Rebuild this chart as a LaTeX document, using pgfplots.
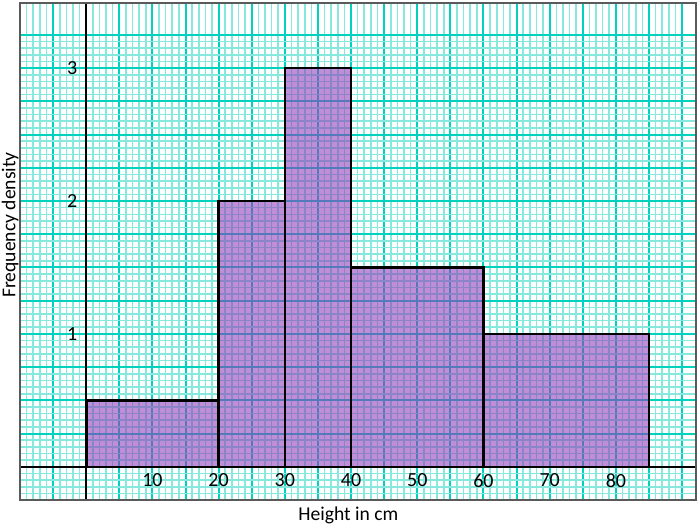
\documentclass[border=0pt]{standalone}
\usepackage{fontspec}
\setmainfont{Carlito}
\usepackage{pgfplots}
\pgfplotsset{compat=1.18}
\definecolor{gridmaj}{RGB}{0,210,190}
\definecolor{gridmin}{RGB}{135,232,222}
\definecolor{barfill}{RGB}{145,60,185}
\definecolor{frame}{RGB}{90,90,90}
\begin{document}
\fontsize{9.8}{12}\selectfont
\begin{tikzpicture}
\begin{axis}[
    scale only axis,
    width=338pt, height=248.5pt,
    xmin=-10, xmax=92.1,
    ymin=-0.25, ymax=3.49,
    axis lines=middle,
    axis line style={-, black, line width=1pt},
    clip=false,
    xtick={-10,-5,...,90},
    xticklabels={,,,,10,,20,,30,,40,,50,,60,,70,,80,,},
    ytick={-0.25,0,...,3.25},
    yticklabels={,,,,,1,,,,2,,,,3,},
    minor x tick num=4,
    minor y tick num=4,
    major tick length=0pt, minor tick length=0pt,
    grid=both,
    major grid style={gridmaj, line width=1pt},
    minor grid style={gridmin, line width=0.8pt},
    /pgf/number format/assume math mode=true,
    tick label style={font=\fontsize{10}{12}\selectfont},
    y tick label style={xshift=-1pt},
    xlabel={Height in cm},
    ylabel={Frequency density},
    every axis x label/.style={at={(axis cs:39.6,-0.25)}, anchor=north, inner sep=3pt},
    every axis y label/.style={at={(axis cs:-11.5,1.82)}, rotate=90, anchor=center},
  ]
  \addplot[ybar interval, draw=black, line width=1.3pt, fill=barfill, fill opacity=0.58]
    coordinates {(0,0.5) (20,2) (30,3) (40,1.5) (60,1) (85,1)};
  \draw[frame, line width=0.8pt] (rel axis cs:0,0) rectangle (rel axis cs:1,1);
\end{axis}
\pgfresetboundingbox
\path[use as bounding box] ([xshift=-10pt,yshift=-13.5pt]current axis.south west)
  rectangle ([xshift=2pt,yshift=1.5pt]current axis.north east);
\end{tikzpicture}
\end{document}
